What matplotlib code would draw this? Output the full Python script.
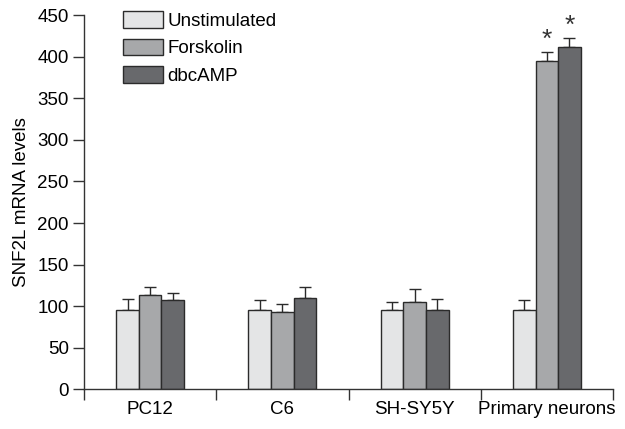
import numpy as np
import matplotlib.pyplot as plt
from matplotlib.patches import Patch

plt.rcParams['font.family'] = ['Liberation Sans Narrow', 'Liberation Sans', 'DejaVu Sans']

categories = ["PC12", "C6", "SH-SY5Y", "Primary neurons"]
series = ["Unstimulated", "Forskolin", "dbcAMP"]
unstim = [95, 96, 96, 96]
forsk = [114, 93, 105, 395]
dbc = [107, 110, 95, 411]
unstim_err = [14, 11, 9, 11]
forsk_err = [9, 10, 16, 10]
dbc_err = [9, 13, 14, 11]
signif = [[False, False, False, False],
          [False, False, False, True],
          [False, False, False, True]]

colors = ["#e4e5e6", "#a7a8aa", "#68696c"]

fig = plt.figure(figsize=(6.25, 4.29), dpi=100)
ax = fig.add_axes([0.1344, 0.0923, 0.8464, 0.8727])

x = np.arange(len(categories))
w = 0.171
vals = [unstim, forsk, dbc]
errs = [unstim_err, forsk_err, dbc_err]
for i in range(3):
    pos = x + (i - 1) * w
    ax.bar(pos, vals[i], w, color=colors[i], edgecolor="#2b2b2b", linewidth=1.0, zorder=2)
    ax.errorbar(pos, vals[i], yerr=[np.zeros(4), errs[i]], fmt="none",
                ecolor="#2b2b2b", elinewidth=1.0, capsize=4, capthick=1.0, zorder=1)
    for j in range(4):
        if signif[i][j]:
            ax.text(pos[j], vals[i][j] + errs[i][j] + 1, "*", ha="center", va="bottom",
                    fontsize=19, color="#333333")

ax.set_xlim(-0.5, 3.5)
ax.set_ylim(0, 450)
ax.set_yticks(np.arange(0, 451, 50))
ax.set_xticks(np.arange(-0.5, 4, 1))
ax.set_xticklabels([])
ax.set_xticks(x, minor=True)
ax.set_xticklabels(categories, minor=True)
ax.tick_params(axis="x", which="minor", length=0, pad=8, labelsize=13.5)
ax.tick_params(axis="x", which="major", length=8, width=1, color="#333333", direction="out")
ax.tick_params(axis="y", length=8, width=1, color="#333333", labelsize=13.5, pad=3)
for s in ["top", "right"]:
    ax.spines[s].set_visible(False)
for s in ["left", "bottom"]:
    ax.spines[s].set_color("#333333")
    ax.spines[s].set_linewidth(1.0)
ax.set_ylabel("SNF2L mRNA levels", fontsize=13.5, labelpad=5)

handles = [Patch(facecolor=c, edgecolor="#2b2b2b", linewidth=1.0) for c in colors]
ax.legend(handles, series, loc="upper left", bbox_to_anchor=(0.06, 1.03), frameon=False,
          fontsize=13.5, handlelength=2.1, handleheight=1.0, handletextpad=0.25,
          labelspacing=0.45, borderaxespad=0)

fig.savefig("out.png", dpi=100)
